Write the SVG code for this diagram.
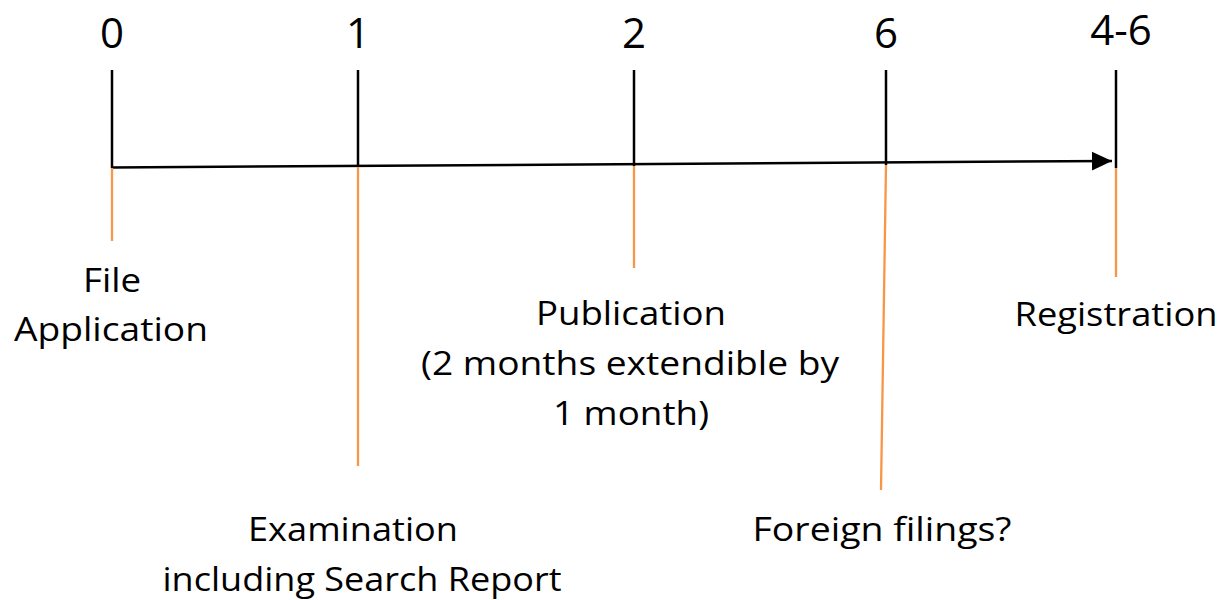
<svg xmlns="http://www.w3.org/2000/svg" width="1225" height="600" viewBox="0 0 1225 600">
<style>
.t{font-family:"Open Sans","Liberation Sans",sans-serif;font-size:32px;fill:#000;text-anchor:middle}
.n{font-family:"Open Sans","Liberation Sans",sans-serif;font-size:42px;fill:#000;text-anchor:middle}
.tick{stroke:#000;stroke-width:2.5;fill:none}
.lead{stroke:#F79646;stroke-width:2.3;fill:none}
.axis{stroke:#000;stroke-width:2.5;fill:none}
</style>
<defs>
<marker id="arr" markerWidth="8" markerHeight="8" refX="6.4" refY="3" orient="auto" markerUnits="strokeWidth" viewBox="0 0 6.4 6">
<path d="M0,0 L6.4,3 L0,6 Z" fill="#000"/>
</marker>
</defs>
<g id="connectors">
<path class="axis" d="M112,167.5 L1112,161" marker-end="url(#arr)"/>
</g>
<g id="m0">
<text class="n" x="112" y="48">0</text>
<line class="tick" x1="112" y1="70" x2="112" y2="168"/>
<line class="lead" x1="112" y1="168" x2="112" y2="241"/>
<text class="t" x="112" y="292" textLength="58" lengthAdjust="spacingAndGlyphs">File</text>
<text class="t" x="111" y="341" textLength="194" lengthAdjust="spacingAndGlyphs">Application</text>
</g>
<g id="m1">
<text class="n" x="358" y="48">1</text>
<line class="tick" x1="358" y1="70" x2="358" y2="167"/>
<line class="lead" x1="358" y1="167" x2="358" y2="466"/>
<text class="t" x="353" y="541" textLength="210" lengthAdjust="spacingAndGlyphs">Examination</text>
<text class="t" x="362" y="591" textLength="399" lengthAdjust="spacingAndGlyphs">including Search Report</text>
</g>
<g id="m2">
<text class="n" x="634" y="48">2</text>
<line class="tick" x1="634" y1="70" x2="634" y2="166"/>
<line class="lead" x1="634" y1="166" x2="634" y2="268"/>
<text class="t" x="631" y="325" textLength="190" lengthAdjust="spacingAndGlyphs">Publication</text>
<text class="t" x="630" y="375" textLength="418" lengthAdjust="spacingAndGlyphs">(2 months extendible by</text>
<text class="t" x="631" y="425" textLength="156" lengthAdjust="spacingAndGlyphs">1 month)</text>
</g>
<g id="m6">
<text class="n" x="886" y="48">6</text>
<line class="tick" x1="886" y1="70" x2="886" y2="165"/>
<line class="lead" x1="886" y1="165" x2="881" y2="490"/>
<text class="t" x="882" y="541" textLength="259" lengthAdjust="spacingAndGlyphs">Foreign filings?</text>
</g>
<g id="m46">
<text class="n" x="1121" y="45">4-6</text>
<line class="tick" x1="1116" y1="70" x2="1116" y2="168"/>
<line class="lead" x1="1116" y1="168" x2="1116" y2="277"/>
<text class="t" x="1116" y="326" textLength="203" lengthAdjust="spacingAndGlyphs">Registration</text>
</g>
</svg>
